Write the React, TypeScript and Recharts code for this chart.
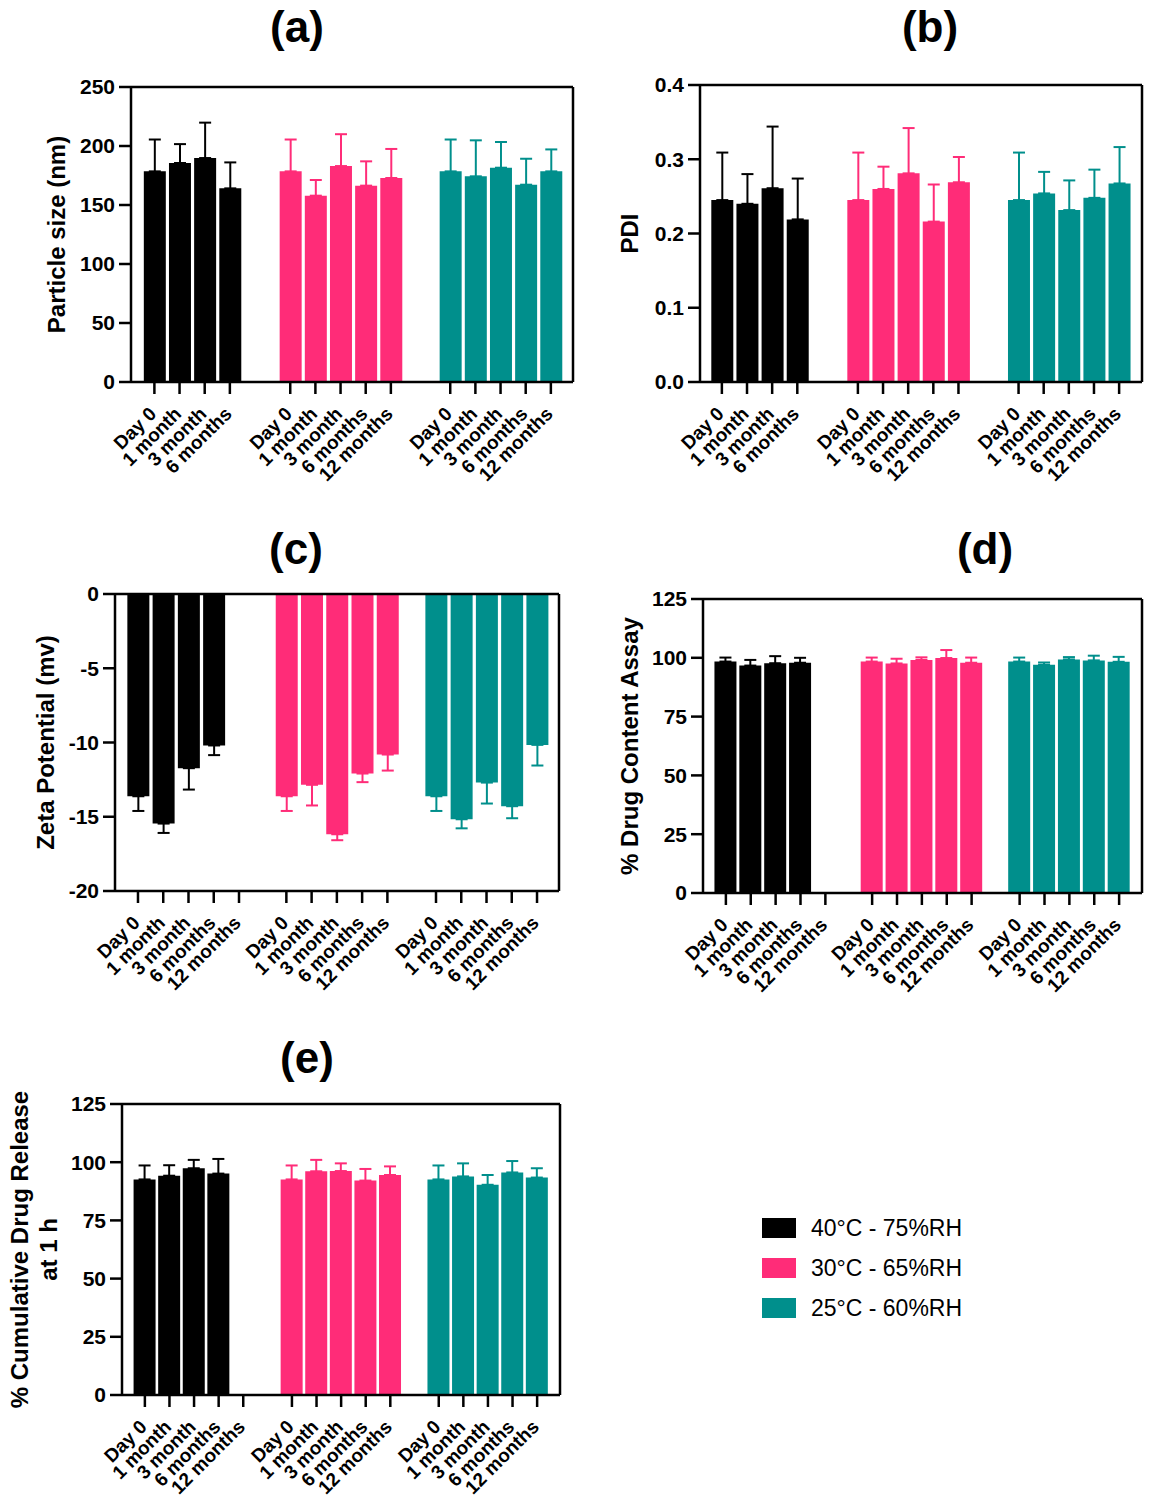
import { BarChart, Bar, XAxis, YAxis, ErrorBar, Cell, ReferenceLine } from "recharts";

const FONT = "'Liberation Sans', Arial, Helvetica, sans-serif";

const timepoints = ["Day 0", "1 month", "3 month", "6 months", "12 months"];
const conditions = ["40°C - 75%RH", "30°C - 65%RH", "25°C - 60%RH"];
const colors = ["#000000", "#ff2c78", "#008f8c"];

// mean / SD per storage condition (40°C, 30°C, 25°C)
const sizeMean = [
  [178.5, 185.6, 189.8, 164.1],
  [178.5, 157.9, 183.0, 166.4, 172.9],
  [178.5, 174.3, 181.6, 167.2, 178.5],
];
const sizeSD = [
  [27, 16, 30, 22],
  [27, 13.3, 27, 20.6, 24.6],
  [27, 30.5, 21.8, 22, 18.6],
];

const pdiMean = [
  [0.245, 0.24, 0.261, 0.219],
  [0.245, 0.26, 0.281, 0.216, 0.269],
  [0.245, 0.254, 0.2315, 0.248, 0.2674],
];
const pdiSD = [
  [0.064, 0.04, 0.083, 0.055],
  [0.064, 0.03, 0.061, 0.05, 0.034],
  [0.064, 0.029, 0.04, 0.038, 0.049],
];

const zetaMean = [
  [-13.62, -15.46, -11.73, -10.2],
  [-13.62, -12.85, -16.18, -12.09, -10.81],
  [-13.62, -15.17, -12.7, -14.29, -10.16],
];
const zetaSD = [
  [0.99, 0.63, 1.44, 0.65],
  [0.99, 1.39, 0.4, 0.58, 1.08],
  [0.99, 0.61, 1.41, 0.81, 1.39],
];

const assayMean = [
  [98.4, 96.7, 97.7, 97.9],
  [98.4, 97.6, 99.1, 99.9, 97.9],
  [98.4, 97.0, 99.3, 98.9, 98.3],
];
const assaySD = [
  [1.7, 2.4, 3.0, 2.1],
  [1.7, 2.0, 1.1, 3.4, 2.2],
  [1.7, 1.0, 1.0, 2.0, 2.1],
];

const releaseMean = [
  [92.6, 94.2, 97.4, 95.1],
  [92.6, 96.1, 96.2, 92.1, 94.5],
  [92.6, 93.9, 90.3, 95.6, 93.4],
];
const releaseSD = [
  [6.0, 4.5, 3.6, 6.3],
  [6.0, 4.9, 3.3, 5.0, 3.7],
  [6.0, 5.6, 4.2, 4.9, 4.0],
];

const Y_W = 140;
const X_H = 130;
const TOP = 20;
const RIGHT = 6;

const XTick = (props: any) => {
  const { x, y, payload, pos } = props;
  let best = 0;
  pos.forEach((p: number, i: number) => {
    if (Math.abs(p - payload.value) < Math.abs(pos[best] - payload.value)) best = i;
  });
  const px = x + 3;
  const py = y + 21;
  return (
    <text
      x={px}
      y={py}
      transform={`rotate(-45 ${px} ${py})`}
      textAnchor="end"
      fontSize={19}
      fontWeight="bold"
      fontFamily={FONT}
      fill="#000"
    >
      {props.labels[best]}
    </text>
  );
};

const YLabel = ({ lines, offsets, h }: any) => {
  const cy = TOP + h / 2;
  return (
    <g>
      {lines.map((t: string, i: number) => {
        const cx = Y_W - offsets[i];
        return (
          <text
            key={i}
            x={cx}
            y={cy}
            transform={`rotate(-90 ${cx} ${cy})`}
            textAnchor="middle"
            dominantBaseline="central"
            fontSize={24}
            fontWeight="bold"
            fontFamily={FONT}
            fill="#000"
          >
            {t}
          </text>
        );
      })}
    </g>
  );
};

const axisStyle = { stroke: "#000", strokeWidth: 2.5 };

function Panel({ p }: { p: any }) {
  const rows: any[] = [];
  p.means.forEach((vals: number[], g: number) =>
    vals.forEach((v, i) => {
      const row: any = { x: p.starts[g] + i, v, g };
      row["e" + g] = p.down ? [p.sds[g][i], 0] : [0, p.sds[g][i]];
      rows.push(row);
    })
  );
  const tickPos: number[] = [];
  const tickLabels: string[] = [];
  p.starts.forEach((s: number, g: number) => {
    const n = g === 0 ? p.firstCount : 5;
    for (let i = 0; i < n; i++) {
      tickPos.push(s + i);
      tickLabels.push(timepoints[i]);
    }
  });
  const yTop = p.yDomain[1];
  const width = p.w + Y_W + RIGHT;
  const height = p.h + TOP + X_H;
  return (
    <div style={{ position: "absolute", left: p.x - Y_W, top: p.y - TOP, width, height }}>
      <BarChart
        width={width}
        height={height}
        data={rows}
        margin={{ top: TOP, right: RIGHT, bottom: 0, left: 0 }}
      >
        <XAxis
          type="number"
          dataKey="x"
          domain={p.xDomain}
          allowDataOverflow
          ticks={tickPos}
          interval={0}
          height={X_H}
          tickSize={12}
          tickMargin={0}
          axisLine={axisStyle}
          tickLine={axisStyle}
          tick={<XTick pos={tickPos} labels={tickLabels} />}
        />
        <YAxis
          type="number"
          domain={p.yDomain}
          allowDataOverflow
          ticks={p.yTicks}
          interval={0}
          width={Y_W}
          tickSize={12}
          tickMargin={4}
          axisLine={axisStyle}
          tickLine={axisStyle}
          tickFormatter={p.fmt}
          tick={{ fill: "#000", fontSize: 21, fontWeight: "bold", fontFamily: FONT }}
          label={<YLabel lines={p.label} offsets={p.labelOff} h={p.h} />}
        />
        <ReferenceLine y={yTop} stroke="#000" strokeWidth={2.5} />
        <ReferenceLine x={p.xDomain[1]} stroke="#000" strokeWidth={2.5} />
        <Bar dataKey="v" barSize={22} isAnimationActive={false}>
          {rows.map((r, i) => (
            <Cell key={i} fill={colors[r.g]} />
          ))}
          {colors.map((c, g) => (
            <ErrorBar
              key={g}
              dataKey={"e" + g}
              direction="y"
              width={6}
              stroke={c}
              strokeWidth={2}
              isAnimationActive={false}
            />
          ))}
        </Bar>
      </BarChart>
    </div>
  );
}

const intFmt = (v: number) => String(v);

const panels = [
  {
    title: "(a)", tx: 297, ty: 27,
    x: 131, y: 87, w: 442, h: 295,
    xDomain: [-0.93, 16.64], starts: [0, 5.4, 11.76], firstCount: 4,
    yDomain: [0, 250], yTicks: [0, 50, 100, 150, 200, 250], fmt: intFmt,
    label: ["Particle size (nm)"], labelOff: [75],
    means: sizeMean, sds: sizeSD,
  },
  {
    title: "(b)", tx: 930, ty: 27,
    x: 700, y: 85, w: 442, h: 297,
    xDomain: [-0.87, 16.71], starts: [0, 5.41, 11.8], firstCount: 4,
    yDomain: [0, 0.4], yTicks: [0, 0.1, 0.2, 0.3, 0.4], fmt: (v: number) => v.toFixed(1),
    label: ["PDI"], labelOff: [71],
    means: pdiMean, sds: pdiSD,
  },
  {
    title: "(c)", tx: 296, ty: 549,
    x: 115, y: 594, w: 444, h: 297,
    xDomain: [-0.91, 16.67], starts: [0, 5.875, 11.8], firstCount: 5,
    yDomain: [-20, 0], yTicks: [-20, -15, -10, -5, 0], fmt: intFmt,
    label: ["Zeta Potential (mv)"], labelOff: [70], down: true,
    means: zetaMean, sds: zetaSD,
  },
  {
    title: "(d)", tx: 985, ty: 549,
    x: 703, y: 599, w: 439, h: 294,
    xDomain: [-0.92, 16.73], starts: [0, 5.88, 11.81], firstCount: 5,
    yDomain: [0, 125], yTicks: [0, 25, 50, 75, 100, 125], fmt: intFmt,
    label: ["% Drug Content Assay"], labelOff: [74],
    means: assayMean, sds: assaySD,
  },
  {
    title: "(e)", tx: 307, ty: 1058,
    x: 122, y: 1104, w: 438, h: 291,
    xDomain: [-0.93, 16.88], starts: [0, 5.98, 11.95], firstCount: 5,
    yDomain: [0, 125], yTicks: [0, 25, 50, 75, 100, 125], fmt: intFmt,
    label: ["% Cumulative Drug Release", "at 1 h"], labelOff: [103, 74],
    means: releaseMean, sds: releaseSD,
  },
];

export default function App() {
  return (
    <div
      style={{
        position: "absolute",
        left: 0,
        top: 0,
        width: 1149,
        height: 1500,
        overflow: "hidden",
        background: "#fff",
        fontFamily: FONT,
      }}
    >
      {panels.map((p) => (
        <div key={p.title}>
          <div
            style={{
              position: "absolute",
              left: p.tx,
              top: p.ty,
              transform: "translate(-50%, -50%)",
              fontSize: 44,
              fontWeight: "bold",
              lineHeight: 1,
            }}
          >
            {p.title}
          </div>
          <Panel p={p} />
        </div>
      ))}
      {conditions.map((c, i) => (
        <div
          key={c}
          style={{
            position: "absolute",
            left: 762,
            top: 1228 + i * 40 - 14,
            height: 28,
            display: "flex",
            alignItems: "center",
          }}
        >
          <div style={{ width: 34, height: 20, background: colors[i] }} />
          <span style={{ marginLeft: 15, fontSize: 23, color: "#000" }}>{c}</span>
        </div>
      ))}
    </div>
  );
}
